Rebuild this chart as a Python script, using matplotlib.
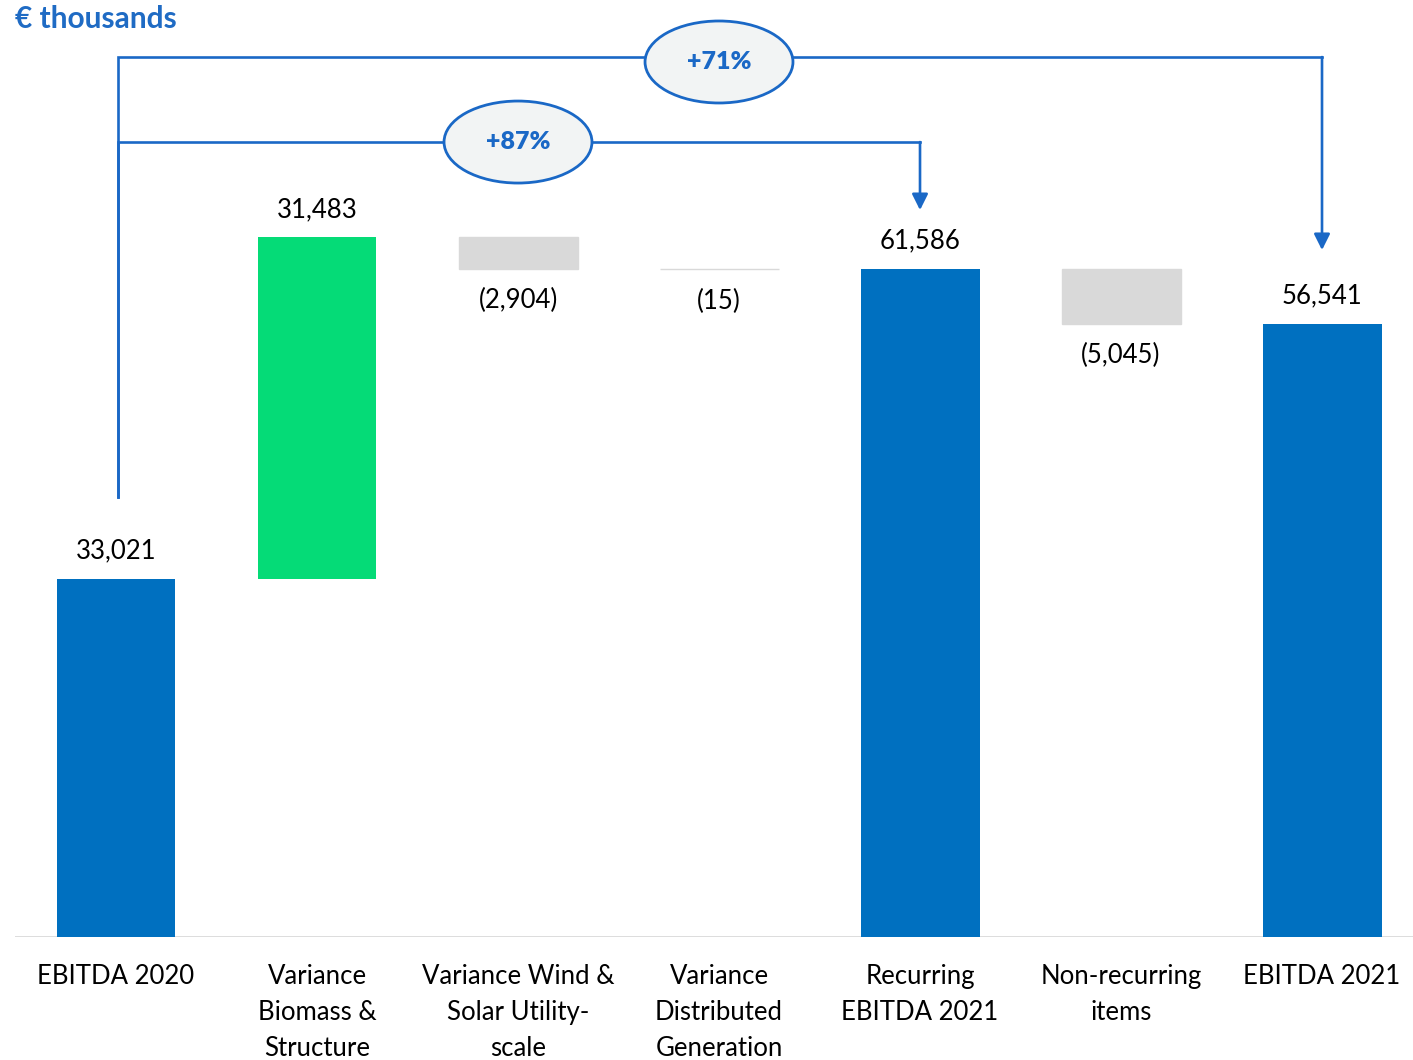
import matplotlib.pyplot as plt
from matplotlib.patches import Ellipse
from matplotlib.transforms import blended_transform_factory

plt.rcParams['font.family'] = ['Lato', 'DejaVu Sans']

# EBITDA bridge 2020 -> 2021, € thousands
categories = ['EBITDA 2020', 'Variance\nBiomass &\nStructure', 'Variance Wind &\nSolar Utility-\nscale',
              'Variance\nDistributed\nGeneration', 'Recurring\nEBITDA 2021', 'Non-recurring\nitems', 'EBITDA 2021']
values = [33021, 31483, -2904, -15, 61586, -5045, 56541]
kinds = ['total', 'delta', 'delta', 'delta', 'total', 'delta', 'total']
growth_labels = ['+87%', '+71%']

BLUE = '#0070C0'
GREEN = '#05DB77'
GREY = '#D9D9D9'
LINE = '#1A68C6'

fig = plt.figure(figsize=(14.13, 10.60), dpi=100)
ax = fig.add_axes([15 / 1413, 123 / 1060, 1398 / 1413, 937 / 1060])
ax.set_xlim(-0.5025, 6.4527)
ax.set_ylim(0, 86385)
ax.axis('off')

# bottoms/heights of the waterfall
running = 0
bottoms, heights, colors = [], [], []
for v, k in zip(values, kinds):
    if k == 'total':
        bottoms.append(0)
        heights.append(v)
        colors.append(BLUE)
        running = v
    else:
        if v >= 0:
            bottoms.append(running)
            colors.append(GREEN)
        else:
            bottoms.append(running + v)
            colors.append(GREY)
        heights.append(abs(v))
        running += v

xs = list(range(len(values)))
bars = ax.bar(xs, heights, bottom=bottoms, width=0.592, color=colors, zorder=2)
for b, c in zip(bars, colors):
    if c == GREY:
        b.set_edgecolor(GREY)
        b.set_linewidth(1)

ax.axhline(0, color='#D9D9D9', lw=2, zorder=1)

# value labels
for x, v, b, h in zip(xs, values, bottoms, heights):
    if v >= 0:
        ax.annotate(f'{v:,}', (x, b + h), xytext=(0, 11), textcoords='offset points',
                    ha='center', va='bottom', fontsize=18.5, color='black')
    else:
        ax.annotate(f'({abs(v):,})', (x, b), xytext=(0, -14), textcoords='offset points',
                    ha='center', va='top', fontsize=18.5, color='black')

# category labels under the axis
trans = blended_transform_factory(ax.transData, fig.transFigure)
for x, lab in zip(xs, categories):
    ax.text(x, 1 - 964 / 1060, lab, transform=trans, ha='center', va='top',
            fontsize=18.5, linespacing=1.55, clip_on=False)

fig.text(15 / 1413, 1 - 19 / 1060, '€ thousands', color='#1F6BC4', fontsize=21.5,
         fontweight='bold', ha='left', va='center')

# growth brackets
def bracket(x0, x1, y_start, y_level, y_tip, label, lab_x, lab_y):
    ax.plot([x0, x0, x1], [y_start, y_level, y_level], color=LINE, lw=1.9, zorder=3,
            solid_joinstyle='miter', clip_on=False)
    ax.annotate('', xy=(x1, y_tip), xytext=(x1, y_level),
                arrowprops=dict(arrowstyle='-|>', color=LINE, lw=1.9, mutation_scale=24,
                                shrinkA=0, shrinkB=0), zorder=3)
    ax.add_patch(Ellipse((lab_x, lab_y), 0.736, 7560, facecolor='#F2F4F4',
                         edgecolor=LINE, lw=2, zorder=4))
    ax.text(lab_x, lab_y, label, ha='center', va='center', fontsize=18,
            fontweight='heavy', color=LINE, zorder=5)

bracket(0.01, 4, values[0] + 7540, 73290, values[4] + 5430, growth_labels[0], 2, 73290)
bracket(0.01, 6, values[0] + 7540, 81127, values[6] + 6790, growth_labels[1], 3, 80670)

fig.savefig('out.png', dpi=100)
